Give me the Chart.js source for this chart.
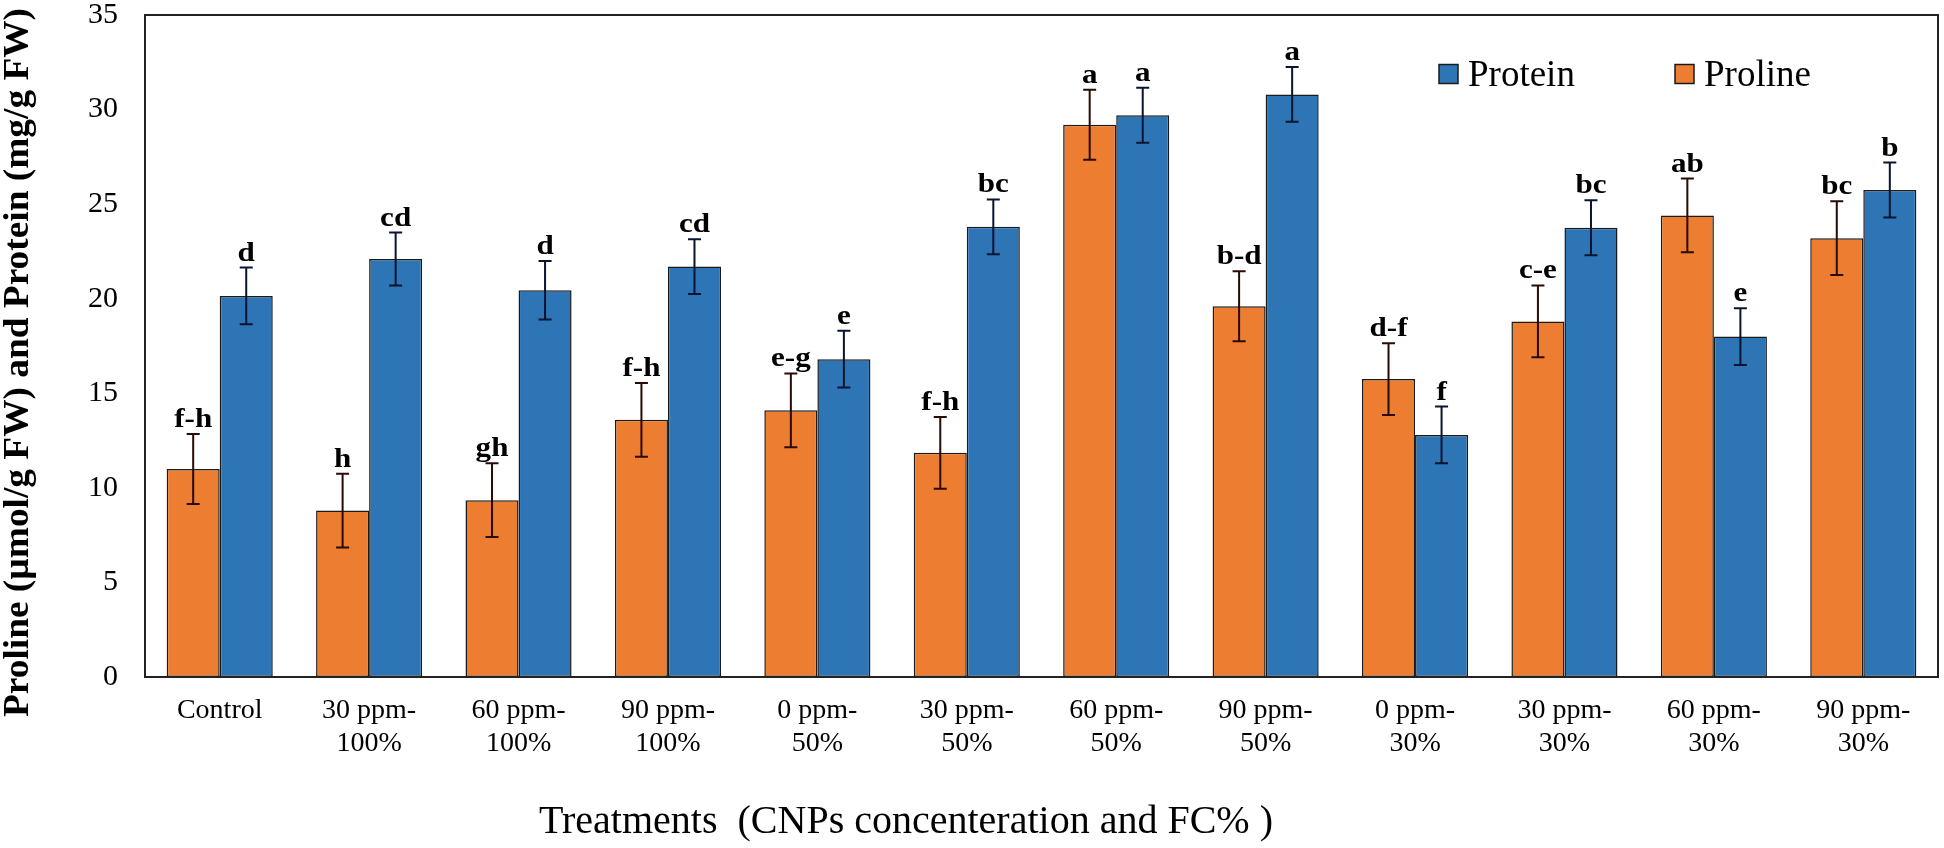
<!DOCTYPE html>
<html>
<head>
<meta charset="utf-8">
<script src="https://cdn.jsdelivr.net/npm/chart.js@4.4.0/dist/chart.umd.min.js"></script>
<style>
html,body{margin:0;padding:0;background:#fff;}
#wrap{width:1944px;height:848px;position:relative;}
</style>
</head>
<body>
<div id="wrap"><canvas id="c" width="1944" height="848"></canvas></div>
<script>
const categories = ['Control', ['30 ppm-','100%'], ['60 ppm-','100%'], ['90 ppm-','100%'],
  ['0 ppm-','50%'], ['30 ppm-','50%'], ['60 ppm-','50%'], ['90 ppm-','50%'],
  ['0 ppm-','30%'], ['30 ppm-','30%'], ['60 ppm-','30%'], ['90 ppm-','30%']];
const prolineValues = [11.0, 8.8, 9.35, 13.6, 14.1, 11.85, 29.2, 19.6, 15.75, 18.8, 24.4, 23.2];
const proteinValues = [20.15, 22.1, 20.45, 21.7, 16.8, 23.8, 29.7, 30.8, 12.8, 23.75, 18.0, 25.75];
const prolineErrors = [1.85, 1.95, 1.95, 1.95, 1.95, 1.9, 1.85, 1.85, 1.9, 1.9, 1.95, 1.95];
const proteinErrors = [1.5, 1.4, 1.55, 1.45, 1.5, 1.45, 1.45, 1.45, 1.5, 1.45, 1.5, 1.45];
const prolineLetters = ['f-h','h','gh','f-h','e-g','f-h','a','b-d','d-f','c-e','ab','bc'];
const proteinLetters = ['d','cd','d','cd','e','bc','a','a','f','bc','e','b'];
const yMin = 0, yMax = 35, yStep = 5;
const xTitle = 'Treatments  (CNPs concenteration and FC% )';
const yTitle = 'Proline (µmol/g FW) and Protein (mg/g FW)';

const SERIF = '"Liberation Serif", "Times New Roman", serif';
const ORANGE = '#ED7D31', BLUE = '#2E75B6';

const errorBarPlugin = {
  id: 'errorBars',
  afterDatasetsDraw(chart) {
    const ctx = chart.ctx, ys = chart.scales.y;
    chart.data.datasets.forEach((ds, i) => {
      const meta = chart.getDatasetMeta(i);
      meta.data.forEach((el, j) => {
        const v = ds.data[j], e = ds.errors[j];
        const yt = ys.getPixelForValue(v + e), yb = ys.getPixelForValue(v - e);
        ctx.save();
        ctx.strokeStyle = ds.errorColor; ctx.lineWidth = 2;
        ctx.beginPath();
        ctx.moveTo(el.x, yt); ctx.lineTo(el.x, yb);
        ctx.moveTo(el.x - 6.5, yt); ctx.lineTo(el.x + 6.5, yt);
        ctx.moveTo(el.x - 6.5, yb); ctx.lineTo(el.x + 6.5, yb);
        ctx.stroke();
        ctx.fillStyle = '#000';
        ctx.font = 'bold 27px ' + SERIF;
        ctx.textAlign = 'center'; ctx.textBaseline = 'alphabetic';
        ctx.translate(el.x, yt - 7);
        ctx.scale(1.15, 1);
        ctx.fillText(ds.letters[j], 0, 0);
        ctx.restore();
      });
    });
  }
};

const framePlugin = {
  id: 'frame',
  afterDraw(chart) {
    const {ctx, chartArea: a} = chart;
    ctx.save();
    ctx.strokeStyle = '#222'; ctx.lineWidth = 2;
    ctx.strokeRect(a.left, a.top, a.right - a.left, a.bottom - a.top);

    // legend inside the plot area (Protein first)
    const items = chart.data.datasets.slice().reverse();
    ctx.font = '37px ' + SERIF;
    ctx.textBaseline = 'alphabetic'; ctx.textAlign = 'left';
    let x = a.left + 1294;
    const yc = a.top + 59;
    items.forEach((ds) => {
      ctx.fillStyle = ds.backgroundColor;
      ctx.fillRect(x, yc - 9.5, 19, 19);
      ctx.strokeStyle = '#1a1a1a'; ctx.lineWidth = 1.5;
      ctx.strokeRect(x, yc - 9.5, 19, 19);
      ctx.fillStyle = '#000';
      ctx.fillText(ds.label, x + 29, yc + 12);
      x += 236;
    });

    // x-axis title
    ctx.font = '40px ' + SERIF;
    ctx.textAlign = 'center'; ctx.textBaseline = 'middle';
    ctx.fillText(xTitle, a.left + 761, 822);

    // y-axis title (rotated, stretched to its span)
    ctx.font = 'bold 35px ' + SERIF;
    const w = ctx.measureText(yTitle).width;
    const span = 709;
    ctx.translate(19, 8 + span / 2);
    ctx.rotate(-Math.PI / 2);
    ctx.scale(span / w, 1);
    ctx.textAlign = 'center'; ctx.textBaseline = 'middle';
    ctx.fillText(yTitle, 0, 0);
    ctx.restore();
  }
};

new Chart(document.getElementById('c'), {
  type: 'bar',
  data: {
    labels: categories,
    datasets: [
      {label: 'Proline', data: prolineValues, errors: prolineErrors, letters: prolineLetters,
       backgroundColor: ORANGE, borderColor: '#1a1a1a', borderWidth: 1.5, borderSkipped: false,
       errorColor: '#2a0a05'},
      {label: 'Protein', data: proteinValues, errors: proteinErrors, letters: proteinLetters,
       backgroundColor: BLUE, borderColor: '#1a1a1a', borderWidth: 1.5, borderSkipped: false,
       errorColor: '#0a1430'}
    ]
  },
  options: {
    responsive: false,
    animation: false,
    devicePixelRatio: 1,
    layout: {padding: {top: 15, right: 6, left: 0, bottom: 0}},
    datasets: {bar: {categoryPercentage: 0.71, barPercentage: 1.0}},
    plugins: {legend: {display: false}, tooltip: {enabled: false}},
    scales: {
      x: {
        grid: {display: false, drawTicks: false},
        border: {display: false},
        ticks: {color: '#000', padding: 17, maxRotation: 0, autoSkip: false,
                font: {family: SERIF, size: 28, lineHeight: 1.18}},
        title: {display: false},
        afterFit(s) { s.height = 171; }
      },
      y: {
        min: yMin, max: yMax,
        grid: {display: false, drawTicks: false},
        border: {display: false},
        ticks: {stepSize: yStep, color: '#000', padding: 27, font: {family: SERIF, size: 30, lineHeight: 1.0}},
        title: {display: false},
        afterFit(s) { s.width = 145; s.paddingTop = 0; s.paddingBottom = 0; }
      }
    }
  },
  plugins: [errorBarPlugin, framePlugin]
});
</script>
</body>
</html>
